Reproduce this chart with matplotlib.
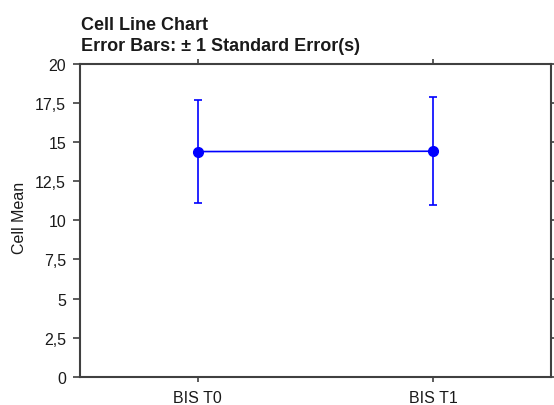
import matplotlib
matplotlib.use("Agg")
import matplotlib.pyplot as plt

# Cell means with +/- 1 standard error
categories = ["BIS T0", "BIS T1"]
cell_means = [14.40, 14.42]
std_errors = [3.28, 3.45]
y_ticks = [0, 2.5, 5, 7.5, 10, 12.5, 15, 17.5, 20]
y_tick_labels = ["0", "2,5", "5", "7,5", "10", "12,5", "15", "17,5", "20"]

plt.rcParams["font.family"] = ["Liberation Sans", "DejaVu Sans"]
text_color = "#1a1a1a"

fig = plt.figure(figsize=(5.54, 4.06), dpi=100)
ax = fig.add_axes([80 / 554, 1 - 377.7 / 406, (551 - 80) / 554, (377.7 - 65) / 406])

x = list(range(len(categories)))
ax.errorbar(x, cell_means, yerr=std_errors, color="#0000FF", ecolor="#0000FF",
            lw=1.2, elinewidth=1.2, capsize=3.2, capthick=1.2,
            marker="o", markersize=7, zorder=3)

ax.set_xlim(-0.5, 1.5)
ax.set_ylim(0, 20)
ax.set_xticks(x)
ax.set_xticklabels(categories, fontsize=11.5, color=text_color)
ax.set_yticks(y_ticks)
ax.set_yticklabels(y_tick_labels, fontsize=11.5, color=text_color)

for s in ax.spines.values():
    s.set_color("#404040")
    s.set_linewidth(1.5)

ax.tick_params(axis="y", direction="out", length=5, width=1.2, color="#404040",
               pad=5, left=True, right=True, labelright=False)
ax.tick_params(axis="x", direction="out", length=3.5, width=1.2, color="#404040",
               pad=6, bottom=True, top=True, labeltop=False)

ax.set_ylabel("Cell Mean", fontsize=11.5, color=text_color)
ax.yaxis.set_label_coords(-0.113, 0.51)

fig.text(81 / 554, 1 - 29.5 / 406, "Cell Line Chart", fontsize=13,
         fontweight="bold", color=text_color, va="baseline", ha="left")
fig.text(81 / 554, 1 - 51 / 406, "Error Bars: \u00b1 1 Standard Error(s)", fontsize=13,
         fontweight="bold", color=text_color, va="baseline", ha="left")

fig.savefig("out.png", dpi=100)
